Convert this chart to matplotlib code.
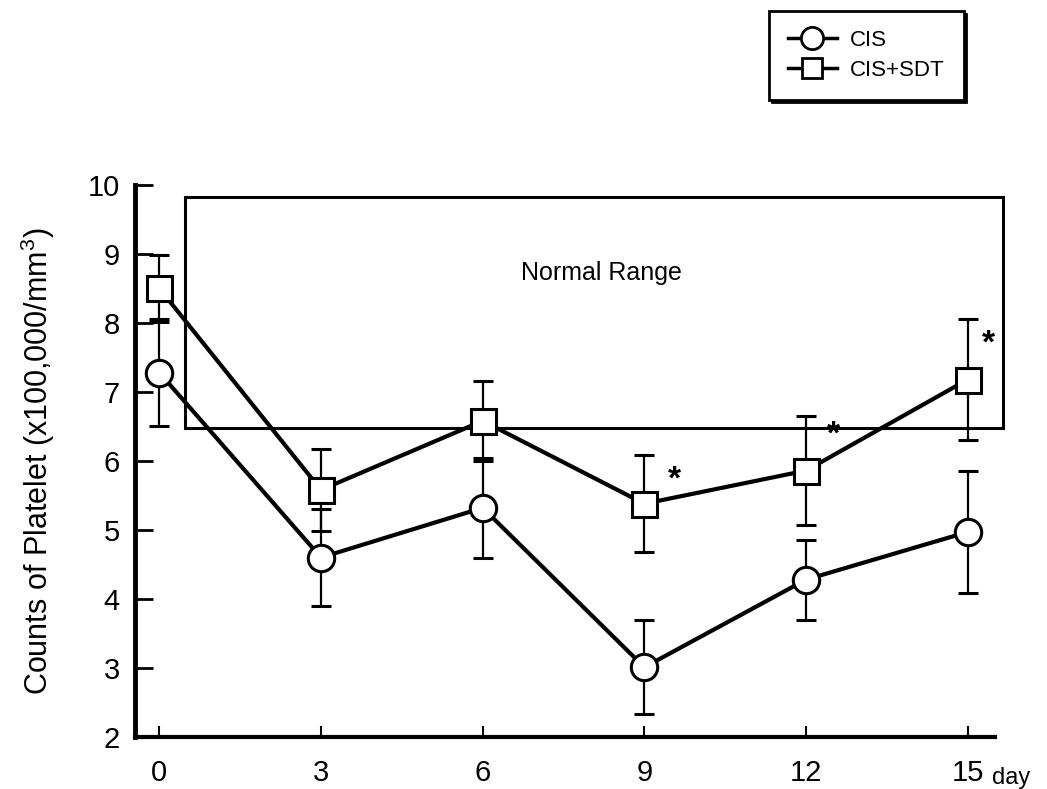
import matplotlib.pyplot as plt
from matplotlib.lines import Line2D
from matplotlib.patches import Rectangle

plt.rcParams['font.family'] = ['Liberation Sans', 'DejaVu Sans']
plt.rcParams['mathtext.fontset'] = 'custom'
plt.rcParams['mathtext.rm'] = 'Liberation Sans'

# platelet counts (x100,000/mm3), mean and SD
days = [0, 3, 6, 9, 12, 15]
cis_mean = [7.28, 4.60, 5.32, 3.01, 4.28, 4.97]
cis_sd = [0.78, 0.70, 0.72, 0.68, 0.58, 0.88]
sdt_mean = [8.50, 5.58, 6.58, 5.38, 5.86, 7.18]
sdt_sd = [0.48, 0.59, 0.58, 0.70, 0.79, 0.87]

# significance marks (x, y)
star_x = [9.55, 12.5, 15.38]
star_y = [5.72, 6.38, 7.70]

# normal range band
normal_lo, normal_hi = 6.48, 9.82
normal_x0, normal_x1 = 0.48, 15.65

fig = plt.figure(figsize=(10.47, 7.89), dpi=100)
ax = fig.add_axes([0.129, 0.066, 0.821, 0.6996])

ax.add_patch(Rectangle((normal_x0, normal_lo), normal_x1 - normal_x0,
                       normal_hi - normal_lo, fill=False, edgecolor='black',
                       linewidth=2.2, clip_on=False, zorder=1))
ax.text(8.2, 8.72, 'Normal Range', fontsize=18, ha='center', va='center')

err_kw = dict(fmt='none', ecolor='black', elinewidth=1.6, capsize=7,
              capthick=2.2, zorder=2)
ax.errorbar(days, cis_mean, yerr=cis_sd, **err_kw)
ax.errorbar(days, sdt_mean, yerr=sdt_sd, **err_kw)

ax.plot(days, cis_mean, color='black', linewidth=3, marker='o',
        markersize=19, markerfacecolor='white', markeredgewidth=2.2, zorder=3)
ax.plot(days, sdt_mean, color='black', linewidth=3, marker='s',
        markersize=18, markerfacecolor='white', markeredgewidth=2.2, zorder=3)

for sx, sy in zip(star_x, star_y):
    ax.text(sx, sy, '*', fontsize=24, fontweight='bold', ha='center',
            va='center')

ax.set_xlim(-0.45, 15.5)
ax.set_ylim(2, 10)
ax.set_xticks(days)
ax.set_yticks(range(2, 11))
ax.spines['top'].set_visible(False)
ax.spines['right'].set_visible(False)
ax.spines['left'].set_linewidth(3.5)
ax.spines['bottom'].set_linewidth(3)
ax.tick_params(axis='y', direction='in', length=13, width=2, labelsize=21,
               pad=11)
ax.tick_params(axis='x', direction='in', length=8, width=1.5, labelsize=21,
               pad=16)
ax.set_ylabel('Counts of Platelet (x100,000/mm$^3$)', fontsize=22,
              labelpad=22)
fig.text(0.966, 0.0, 'day', fontsize=17, ha='center', va='bottom')

handles = [
    Line2D([], [], color='black', linewidth=2.5, marker='o', markersize=16,
           markerfacecolor='white', markeredgewidth=2),
    Line2D([], [], color='black', linewidth=2.5, marker='s', markersize=15,
           markerfacecolor='white', markeredgewidth=2),
]
leg = fig.legend(handles, ['CIS', 'CIS+SDT'], loc='upper right',
                 bbox_to_anchor=(0.933, 1.003), fontsize=16, frameon=True,
                 fancybox=False, shadow={'color': 'black', 'alpha': 1},
                 handlelength=2.2, borderpad=0.85, labelspacing=0.4,
                 handletextpad=0.6, borderaxespad=0.6)
leg.get_frame().set_edgecolor('black')
leg.get_frame().set_linewidth(2)

fig.savefig('out.png', dpi=100)
